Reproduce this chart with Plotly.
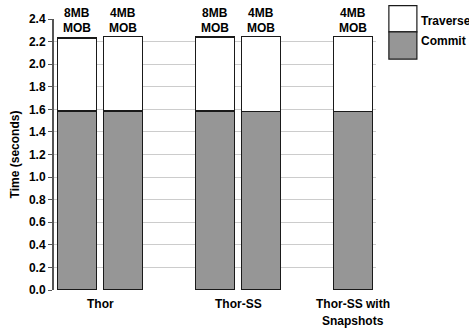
import plotly.graph_objects as go

# Bar slots (gaps at 2 and 5 separate the systems)
slots = [0, 1, 3, 4, 6]
mob_sizes = ["8MB", "4MB", "8MB", "4MB", "4MB"]
commit = [1.585, 1.587, 1.585, 1.580, 1.582]
total = [2.232, 2.243, 2.240, 2.243, 2.243]
traverse = [t - c for t, c in zip(total, commit)]

groups = [("Thor",), ("Thor-SS",), ("Thor-SS with", "Snapshots")]
group_pos = [0.5, 3.5, 6]

y_ticks = [round(0.2 * i, 1) for i in range(13)]

FONT = "Liberation Sans, Arial, sans-serif"
FS = 12
GRAY = "#969696"
EDGE = "#1a1a1a"

# pixel geometry of the plot area (used to place text lines)
H, T, B = 328, 16, 38
PH = H - T - B
YMAX = 2.4


def ypaper(px):
    """Paper coordinate of a given pixel row."""
    return (H - B - px) / PH


fig = go.Figure()
fig.add_trace(go.Bar(x=slots, y=commit, name="Commit", width=0.84,
                     marker=dict(color=GRAY, line=dict(color=EDGE, width=1.5))))
fig.add_trace(go.Bar(x=slots, y=traverse, name="Traverse", width=0.84,
                     marker=dict(color="white", line=dict(color=EDGE, width=1.5))))

txt = dict(family=FONT, size=FS, color="black")

# MOB size labels above each bar
for x, size in zip(slots, mob_sizes):
    fig.add_annotation(x=x, y=ypaper(10), xref="x", yref="paper", yanchor="middle",
                       text="<b>%s</b>" % size, showarrow=False, font=txt)
    fig.add_annotation(x=x, y=ypaper(25), xref="x", yref="paper", yanchor="middle",
                       text="<b>MOB</b>", showarrow=False, font=txt)

# Group labels under the axis
for x, lines in zip(group_pos, groups):
    for i, line in enumerate(lines):
        fig.add_annotation(x=x, y=ypaper(304 + 17 * i), xref="x", yref="paper",
                           yanchor="middle", text="<b>%s</b>" % line,
                           showarrow=False, font=txt)

# Legend drawn as a stacked swatch with labels
fig.add_shape(type="rect", xref="paper", yref="paper", x0=1.04, x1=1.127,
              y0=ypaper(29), y1=ypaper(2.5),
              fillcolor="white", line=dict(color=EDGE, width=1.2))
fig.add_shape(type="rect", xref="paper", yref="paper", x0=1.04, x1=1.127,
              y0=ypaper(56.5), y1=ypaper(29),
              fillcolor=GRAY, line=dict(color=EDGE, width=1.2))
fig.add_annotation(x=1.135, y=ypaper(18), xref="paper", yref="paper",
                   xanchor="left", yanchor="middle", text="<b>Traverse</b>",
                   showarrow=False, font=txt)
fig.add_annotation(x=1.135, y=ypaper(38), xref="paper", yref="paper",
                   xanchor="left", yanchor="middle", text="<b>Commit</b>",
                   showarrow=False, font=txt)

fig.update_layout(
    width=469, height=328,
    margin=dict(l=54, r=93, t=T, b=B),
    barmode="stack",
    showlegend=False,
    plot_bgcolor="white", paper_bgcolor="white",
    font=dict(family=FONT, size=FS, color="black"),
    xaxis=dict(range=[-0.5, 6.5], showticklabels=False, showgrid=False,
               zeroline=False, ticks=""),
    yaxis=dict(range=[0, YMAX], tickvals=y_ticks,
               ticktext=["<b>%.1f</b>" % v for v in y_ticks],
               showgrid=True, gridcolor="#cccccc", gridwidth=1,
               zeroline=False, showline=True, linecolor="#555555", linewidth=2,
               ticks="outside", ticklen=4, tickcolor="#555555",
               tickfont=dict(family=FONT, size=FS),
               title=dict(text="<b>Time (seconds)</b>", standoff=7,
                          font=dict(family=FONT, size=FS))),
)

fig.write_html("out.html")
